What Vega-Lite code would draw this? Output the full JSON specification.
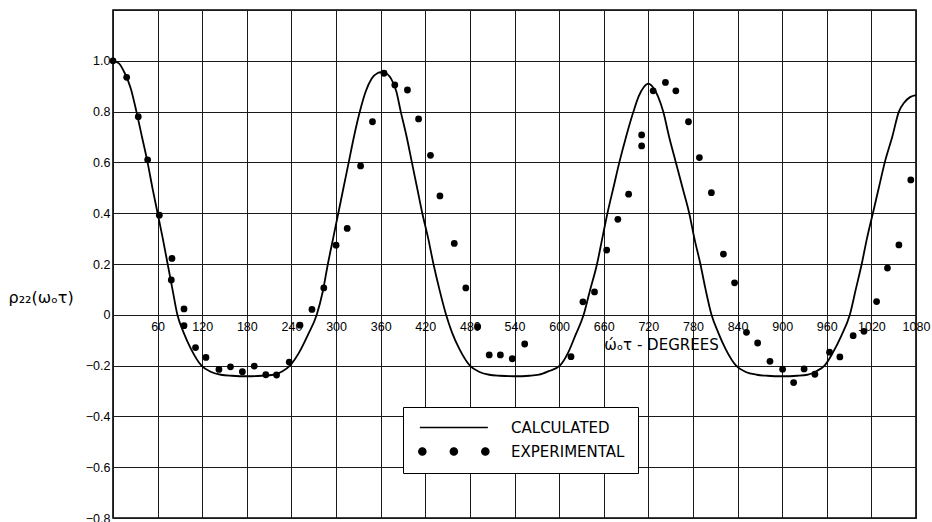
{
  "$schema": "https://vega.github.io/schema/vega-lite/v6.json",
  "width": 803,
  "height": 508,
  "autosize": {"type": "none"},
  "padding": {"left": 113, "top": 10, "right": 16, "bottom": 4},
  "background": "white",
  "config": {
    "font": "Liberation Sans",
    "view": {"stroke": "black", "strokeWidth": 1.6},
    "axis": {
      "domain": false,
      "ticks": false,
      "gridColor": "#1a1a1a",
      "gridWidth": 1,
      "gridOpacity": 1,
      "labelFont": "Liberation Sans",
      "labelFontSize": 12.5,
      "labelColor": "black",
      "labelOverlap": false,
      "titleFont": "DejaVu Sans",
      "titleFontWeight": "normal",
      "titleColor": "black"
    }
  },
  "datasets": {
    "calculated": [
      {"x": 0, "y": 1.0}, {"x": 8, "y": 0.99}, {"x": 16, "y": 0.95}, {"x": 24, "y": 0.89},
      {"x": 31.5, "y": 0.8}, {"x": 39, "y": 0.7}, {"x": 46.5, "y": 0.6}, {"x": 53, "y": 0.5},
      {"x": 60, "y": 0.4}, {"x": 67, "y": 0.3}, {"x": 73.5, "y": 0.2}, {"x": 80, "y": 0.1},
      {"x": 86.6, "y": 0.0}, {"x": 95, "y": -0.07}, {"x": 105, "y": -0.135}, {"x": 119, "y": -0.2},
      {"x": 132, "y": -0.225}, {"x": 145, "y": -0.236}, {"x": 160, "y": -0.24}, {"x": 180, "y": -0.242},
      {"x": 200, "y": -0.24}, {"x": 216, "y": -0.236}, {"x": 228, "y": -0.222}, {"x": 238, "y": -0.2},
      {"x": 250, "y": -0.15}, {"x": 262, "y": -0.08}, {"x": 274, "y": 0.0}, {"x": 282, "y": 0.09},
      {"x": 289, "y": 0.2}, {"x": 296, "y": 0.3}, {"x": 303, "y": 0.4}, {"x": 310, "y": 0.5},
      {"x": 317, "y": 0.6}, {"x": 324, "y": 0.7}, {"x": 332, "y": 0.8}, {"x": 340, "y": 0.88},
      {"x": 348, "y": 0.93}, {"x": 356, "y": 0.952}, {"x": 360, "y": 0.955}, {"x": 366, "y": 0.952},
      {"x": 374, "y": 0.93}, {"x": 381, "y": 0.88}, {"x": 387, "y": 0.8}, {"x": 395, "y": 0.7},
      {"x": 402, "y": 0.6}, {"x": 409, "y": 0.5}, {"x": 416, "y": 0.4}, {"x": 424, "y": 0.3},
      {"x": 431, "y": 0.2}, {"x": 439, "y": 0.1}, {"x": 448, "y": 0.0}, {"x": 456, "y": -0.07},
      {"x": 466, "y": -0.135}, {"x": 480, "y": -0.2}, {"x": 493, "y": -0.225}, {"x": 506, "y": -0.236},
      {"x": 520, "y": -0.24}, {"x": 540, "y": -0.242}, {"x": 560, "y": -0.24}, {"x": 573, "y": -0.236},
      {"x": 586, "y": -0.222}, {"x": 601, "y": -0.2}, {"x": 612, "y": -0.15}, {"x": 622, "y": -0.08},
      {"x": 633, "y": 0.0}, {"x": 641, "y": 0.09}, {"x": 651, "y": 0.2}, {"x": 658, "y": 0.3},
      {"x": 665, "y": 0.4}, {"x": 673, "y": 0.5}, {"x": 681, "y": 0.6}, {"x": 690, "y": 0.7},
      {"x": 700, "y": 0.8}, {"x": 707, "y": 0.86}, {"x": 714, "y": 0.897}, {"x": 720, "y": 0.91},
      {"x": 726, "y": 0.897}, {"x": 733, "y": 0.86}, {"x": 740, "y": 0.8}, {"x": 748, "y": 0.7},
      {"x": 757, "y": 0.6}, {"x": 766, "y": 0.5}, {"x": 775, "y": 0.4}, {"x": 782, "y": 0.3},
      {"x": 790, "y": 0.2}, {"x": 797, "y": 0.1}, {"x": 805, "y": 0.0}, {"x": 814, "y": -0.07},
      {"x": 824, "y": -0.135}, {"x": 838, "y": -0.2}, {"x": 851, "y": -0.225}, {"x": 866, "y": -0.236},
      {"x": 880, "y": -0.24}, {"x": 900, "y": -0.242}, {"x": 920, "y": -0.24}, {"x": 934, "y": -0.236},
      {"x": 946, "y": -0.222}, {"x": 957, "y": -0.2}, {"x": 968, "y": -0.15}, {"x": 980, "y": -0.08},
      {"x": 991, "y": 0.0}, {"x": 999, "y": 0.1}, {"x": 1007, "y": 0.2}, {"x": 1014, "y": 0.3},
      {"x": 1022, "y": 0.4}, {"x": 1030, "y": 0.5}, {"x": 1038, "y": 0.6}, {"x": 1048, "y": 0.7},
      {"x": 1057, "y": 0.8}, {"x": 1064, "y": 0.835}, {"x": 1072, "y": 0.857}, {"x": 1080, "y": 0.865}
    ],
    "experimental": [
      {"x": 0, "y": 1.0}, {"x": 18.4, "y": 0.935}, {"x": 34, "y": 0.78}, {"x": 46.6, "y": 0.61},
      {"x": 62.3, "y": 0.392}, {"x": 79.3, "y": 0.222}, {"x": 78.4, "y": 0.137}, {"x": 95.5, "y": 0.023},
      {"x": 95.5, "y": -0.043}, {"x": 111, "y": -0.129}, {"x": 125, "y": -0.168}, {"x": 142.5, "y": -0.215},
      {"x": 158, "y": -0.205}, {"x": 174, "y": -0.224}, {"x": 190, "y": -0.202}, {"x": 205.5, "y": -0.236},
      {"x": 220, "y": -0.237}, {"x": 237, "y": -0.186}, {"x": 251.5, "y": -0.041}, {"x": 267.6, "y": 0.021},
      {"x": 283.5, "y": 0.106}, {"x": 300, "y": 0.274}, {"x": 315, "y": 0.34}, {"x": 333, "y": 0.586},
      {"x": 349, "y": 0.76}, {"x": 364.5, "y": 0.951}, {"x": 379, "y": 0.905}, {"x": 396, "y": 0.885},
      {"x": 411, "y": 0.771}, {"x": 427, "y": 0.628}, {"x": 439.7, "y": 0.468}, {"x": 459, "y": 0.281},
      {"x": 474.5, "y": 0.106}, {"x": 490.5, "y": -0.047}, {"x": 506, "y": -0.158}, {"x": 521, "y": -0.158},
      {"x": 537, "y": -0.173}, {"x": 553.7, "y": -0.115}, {"x": 616, "y": -0.165}, {"x": 632, "y": 0.051},
      {"x": 647.6, "y": 0.09}, {"x": 664, "y": 0.255}, {"x": 679, "y": 0.376}, {"x": 693.5, "y": 0.475},
      {"x": 711, "y": 0.708}, {"x": 711, "y": 0.665}, {"x": 726.5, "y": 0.882}, {"x": 743, "y": 0.915},
      {"x": 757, "y": 0.882}, {"x": 774, "y": 0.76}, {"x": 788.7, "y": 0.619}, {"x": 804.8, "y": 0.481},
      {"x": 821, "y": 0.239}, {"x": 836, "y": 0.126}, {"x": 852, "y": -0.069}, {"x": 867, "y": -0.111},
      {"x": 883.6, "y": -0.183}, {"x": 900.6, "y": -0.214}, {"x": 915.4, "y": -0.267}, {"x": 929.5, "y": -0.213},
      {"x": 944, "y": -0.234}, {"x": 963.7, "y": -0.147}, {"x": 977.6, "y": -0.166}, {"x": 995.5, "y": -0.082},
      {"x": 1010, "y": -0.065}, {"x": 1027, "y": 0.052}, {"x": 1041.6, "y": 0.184}, {"x": 1057, "y": 0.275},
      {"x": 1073, "y": 0.531}
    ]
  },
  "encoding": {
    "y": {
      "field": "y",
      "type": "quantitative",
      "scale": {"domain": [-0.8, 1.2], "nice": false, "zero": false},
      "axis": {
        "orient": "left",
        "grid": true,
        "values": [-0.8, -0.6, -0.4, -0.2, 0, 0.2, 0.4, 0.6, 0.8, 1.0, 1.2],
        "labelExpr": "datum.value > 1.1 ? '' : (datum.value == 0 ? '0' : format(datum.value, '.1f'))",
        "labelPadding": 3,
        "title": "ρ₂₂(ωₒτ)",
        "titleAngle": 0,
        "titleX": -105,
        "titleY": 287,
        "titleAlign": "left",
        "titleBaseline": "middle",
        "titleFontSize": 16
      }
    }
  },
  "layer": [
    {
      "data": {"name": "calculated"},
      "mark": {"type": "line", "color": "black", "strokeWidth": 1.8, "interpolate": "monotone"},
      "encoding": {
        "x": {
          "field": "x",
          "type": "quantitative",
          "scale": {"domain": [0, 1080], "nice": false, "zero": false},
          "axis": {
            "orient": "bottom",
            "grid": true,
            "labels": false,
            "values": [0, 60, 120, 180, 240, 300, 360, 420, 480, 540, 600, 660, 720, 780, 840, 900, 960, 1020, 1080],
            "title": null
          }
        }
      }
    },
    {
      "data": {"name": "experimental"},
      "mark": {"type": "point", "filled": true, "size": 46, "opacity": 1},
      "encoding": {
        "x": {
          "field": "x",
          "type": "quantitative",
          "scale": {"domain": [0, 1080], "nice": false, "zero": false},
          "axis": {
            "orient": "bottom",
            "offset": -203.2,
            "grid": false,
            "format": "d",
            "values": [60, 120, 180, 240, 300, 360, 420, 480, 540, 600, 660, 720, 780, 840, 900, 960, 1020, 1080],
            "labelFlush": false,
            "labelPadding": 6,
            "title": "ώₒτ - DEGREES",
            "titleX": 548,
            "titleY": 30,
            "titleAlign": "center",
            "titleAnchor": "start",
            "titleBaseline": "middle",
            "titleFontSize": 15
          }
        },
        "color": {
          "datum": "EXPERIMENTAL",
          "type": "nominal",
          "scale": {"domain": ["CALCULATED", "EXPERIMENTAL"], "range": ["black", "black"]},
          "legend": {
            "orient": "none",
            "legendX": 290,
            "legendY": 397,
            "title": null,
            "padding": 13,
            "fillColor": "white",
            "strokeColor": "black",
            "symbolSize": 100,
            "symbolOffset": 30.35,
            "symbolType": {"expr": "datum.value === 'CALCULATED' ? 'M-6.8,0H6.8' : 'M-5.57,0A0.73,0.73,0,1,1,-7.03,0A0.73,0.73,0,1,1,-5.57,0Z M0.73,0A0.73,0.73,0,1,1,-0.73,0A0.73,0.73,0,1,1,0.73,0Z M7.03,0A0.73,0.73,0,1,1,5.57,0A0.73,0.73,0,1,1,7.03,0Z'"},
            "symbolFillColor": "black",
            "symbolStrokeColor": "black",
            "symbolStrokeWidth": 1.3,
            "symbolOpacity": 1,
            "labelOffset": 49.7,
            "labelFont": "DejaVu Sans",
            "labelFontSize": 15,
            "labelColor": "black",
            "rowPadding": 8
          }
        }
      }
    }
  ],
  "resolve": {"axis": {"x": "independent"}}
}
